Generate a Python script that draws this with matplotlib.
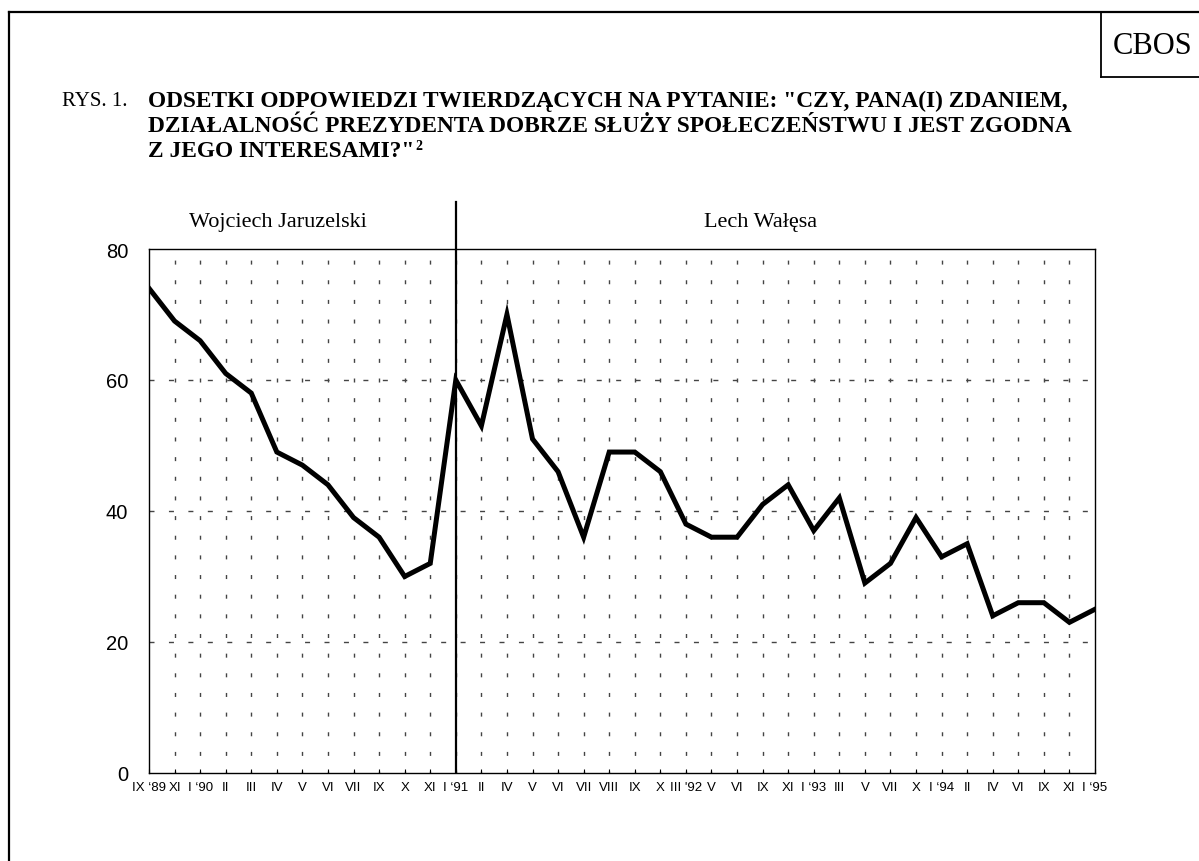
import matplotlib
matplotlib.use("Agg")
import matplotlib.pyplot as plt
from matplotlib.lines import Line2D

# survey months (Sept 1989 - Jan 1995)
months = ["IX \u201889", "XI", "I \u201890", "II", "III", "IV", "V", "VI", "VII", "IX", "X", "XI",
          "I \u201891", "II", "IV", "V", "VI", "VII", "VIII", "IX", "X", "III '92", "V", "VI",
          "IX", "XI", "I \u201893", "III", "V", "VII", "X", "I \u201894", "II", "IV", "VI",
          "IX", "XI", "I \u201895"]
# percent of "yes" answers
yes_pct = [74, 69, 66, 61, 58, 49, 47, 44, 39, 36, 30, 32,
           60, 53, 70, 51, 46, 36, 49, 49, 46, 38, 36, 36,
           41, 44, 37, 42, 29, 32, 39, 33, 35, 24, 26, 26, 23, 25]
y_ticks = [0, 20, 40, 60, 80]
presidents = ["Wojciech Jaruzelski", "Lech Wa\u0142\u0119sa"]
switch_idx = 12  # I '91 - Walesa takes office

serif = "Liberation Serif"
sans = "Liberation Sans"

fig = plt.figure(figsize=(11.99, 8.62), dpi=100)
W, H = 1199, 862

def fx(px):
    return px / W

def fy(py):
    return 1 - py / H

# outer frame and CBOS box
fig.add_artist(Line2D([fx(9), fx(9)], [fy(13), 0], color="black", lw=1.6))
fig.add_artist(Line2D([fx(9), 1], [fy(13), fy(13)], color="black", lw=1.6))
fig.add_artist(Line2D([fx(1101), fx(1101)], [fy(13), fy(78)], color="black", lw=1.3))
fig.add_artist(Line2D([fx(1101), 1], [fy(78), fy(78)], color="black", lw=1.3))
fig.text(fx(1153), fy(46), "CBOS", family=serif, fontsize=22, ha="center", va="center")

# title
fig.text(fx(62), fy(101), "RYS. 1.", family=serif, fontsize=15, va="center")
title_lines = ['ODSETKI ODPOWIEDZI TWIERDZ\u0104CYCH NA PYTANIE: "CZY, PANA(I) ZDANIEM,',
               "DZIA\u0141ALNO\u015a\u0106 PREZYDENTA DOBRZE S\u0141U\u017bY SPO\u0141ECZE\u0143STWU I JEST ZGODNA",
               'Z JEGO INTERESAMI?"']
for i, line in enumerate(title_lines):
    t = fig.text(fx(148), fy(101 + i * 25.5), line, family=serif, fontsize=16.8,
                 fontweight="bold", va="center")
fig.canvas.draw()
bb = t.get_window_extent()
fig.text(bb.x1 / W + 0.001, fy(146), "2", family=serif, fontsize=10,
         fontweight="bold", va="center")

ax = fig.add_axes([fx(149), fy(774), fx(1095) - fx(149), fy(250) - fy(774)])
x = list(range(len(months)))

ax.set_xlim(0, len(months) - 1)
ax.set_ylim(0, 80)

# grid: short vertical dashes, dashed horizontal lines
for xi in x[1:-1]:
    ax.plot([xi, xi], [80, 0], color="#444444", lw=1.0,
            linestyle=(6.16, (2.88, 11.27)), zorder=1)
for yv in y_ticks[1:-1]:
    ax.plot([0, len(months) - 1], [yv, yv], color="#444444", lw=1.0,
            linestyle=(0, (3.6, 10.4)), zorder=1)

ax.plot(x, yes_pct, color="black", lw=3.6, solid_joinstyle="miter", zorder=3)

# separator between presidents
ax.plot([switch_idx, switch_idx], [0, 80], color="black", lw=1.6, zorder=4)
ax.add_artist(Line2D([switch_idx, switch_idx], [1, 1.09], color="black", lw=1.6,
                     transform=ax.get_xaxis_transform(), clip_on=False))
ax.text(5.05, 1.053, presidents[0], transform=ax.get_xaxis_transform(),
        family=serif, fontsize=16, ha="center", va="center")
ax.text(23.9, 1.053, presidents[1], transform=ax.get_xaxis_transform(),
        family=serif, fontsize=16, ha="center", va="center")

ax.set_xticks(x)
ax.set_xticklabels(months, family=sans, fontsize=9.5)
ax.set_yticks(y_ticks)
ax.set_yticklabels([str(v) for v in y_ticks], family=sans, fontsize=14.5)
ax.tick_params(axis="x", direction="in", length=3, width=0.8, pad=6)
ax.tick_params(axis="y", length=0, pad=15)
for s in ax.spines.values():
    s.set_linewidth(1.0)
    s.set_color("black")

fig.savefig("out.png", dpi=100)
